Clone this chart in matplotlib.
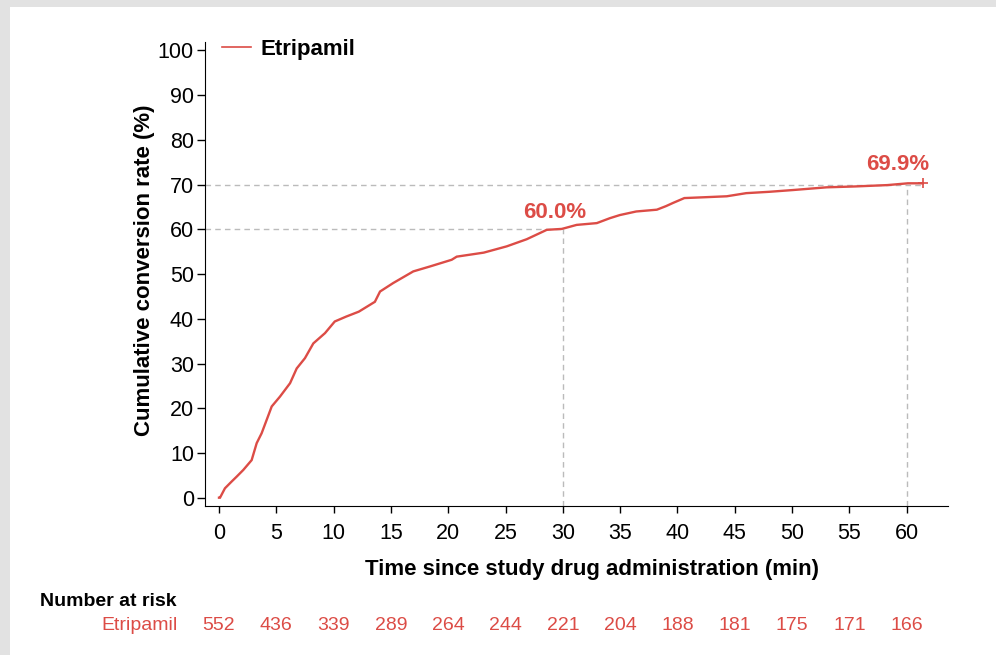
import matplotlib.pyplot as plt
from matplotlib.lines import Line2D
from matplotlib.patches import Rectangle

plt.rcParams['font.family'] = ['Liberation Sans', 'DejaVu Sans']

red = '#dc4c46'

# cumulative conversion curve
time_min = [0, 0.09, 0.52, 1.1, 1.54, 2.12, 2.85, 3.29, 3.72, 4.16, 4.6, 5.32, 6.2,
            6.78, 7.5, 8.23, 9.25, 10.1, 11.1, 12.2, 13.6, 14.05, 15.2, 16.95, 18.4,
            20.3, 20.74, 23.1, 25.1, 26.85, 28.6, 29.9, 30.2, 31.2, 32.96, 34.1,
            34.97, 36.4, 38.2, 39.0, 39.6, 40.6, 42.5, 44.3, 46.0, 48.0, 50.1, 53.0,
            55.5, 58.3, 60.1, 61.4]
conv_pct = [0, 0, 2.1, 3.6, 4.7, 6.2, 8.4, 12.2, 14.4, 17.4, 20.4, 22.6, 25.6,
            28.9, 31.2, 34.5, 36.8, 39.4, 40.5, 41.6, 43.8, 46.1, 48.0, 50.6, 51.7,
            53.2, 53.9, 54.8, 56.2, 57.8, 59.9, 60.1, 60.3, 61.0, 61.4, 62.5,
            63.2, 64.0, 64.4, 65.2, 65.9, 67.0, 67.2, 67.4, 68.1, 68.4, 68.8, 69.4,
            69.6, 69.9, 70.3, 70.3]

x_ticks = list(range(0, 61, 5))
y_ticks = list(range(0, 101, 10))
at_risk = [552, 436, 339, 289, 264, 244, 221, 204, 188, 181, 175, 171, 166]

fig = plt.figure(figsize=(9.96, 6.55), dpi=100)
# card with grey shadow on top/left
fig.patches.append(Rectangle((0, 0), 1, 1, transform=fig.transFigure,
                             facecolor='#e2e2e2', edgecolor='none', zorder=-10))
fig.patches.append(Rectangle((10 / 996, 0), 1, 1 - 7 / 655, transform=fig.transFigure,
                             facecolor='white', edgecolor='none', zorder=-9))

ax = fig.add_axes([205 / 996, 1 - 506 / 655, (948 - 205) / 996, (506 - 42) / 655])
ax.set_facecolor('none')

# reference lines at 30 and 60 min
dash = (0, (4, 3))
ax.plot([-1.22, 30], [60, 60], ls=dash, color='#bbbbbb', lw=1)
ax.plot([30, 30], [-1.86, 60], ls=dash, color='#bbbbbb', lw=1)
ax.plot([-1.22, 61.4], [70, 70], ls=dash, color='#bbbbbb', lw=1)
ax.plot([60, 60], [-1.86, 70], ls=dash, color='#bbbbbb', lw=1)

ax.plot(time_min, conv_pct, color=red, lw=1.7, solid_joinstyle='miter')
ax.plot([time_min[-1]], [conv_pct[-1]], marker='+', color=red, ms=7, mew=1.2)

ax.text(29.3, 62.5, '60.0%', color=red, fontsize=16, fontweight='bold', ha='center')
ax.text(59.2, 73.2, '69.9%', color=red, fontsize=16, fontweight='bold', ha='center')

ax.set_xlim(-1.22, 63.6)
ax.set_ylim(-1.86, 101.9)
ax.set_xticks(x_ticks)
ax.set_yticks(y_ticks)
ax.tick_params(axis='y', labelsize=15.5, length=6, width=1, pad=2)
ax.tick_params(axis='x', labelsize=15.5, length=5, width=1, pad=7)
for s in ['top', 'right']:
    ax.spines[s].set_visible(False)
ax.set_xlabel('Time since study drug administration (min)', fontsize=16,
              fontweight='bold')
ax.set_ylabel('Cumulative conversion rate (%)', fontsize=16, fontweight='bold')
ax.xaxis.set_label_coords(0.521, -0.114)
ax.yaxis.set_label_coords(-0.0673, 0.508)

handle = Line2D([], [], color=red, lw=1.2)
ax.legend([handle], ['Etripamil'], loc='upper left', bbox_to_anchor=(0.0229, 1.0065),
          frameon=False, borderpad=0, borderaxespad=0, handlelength=1.3,
          handletextpad=0.45, prop={'weight': 'bold', 'size': 16})

# number at risk table
fig.text(40 / 996, 1 - 601 / 655, 'Number at risk', fontsize=14, fontweight='bold',
         va='center', ha='left')
fig.text(178 / 996, 1 - 626 / 655, 'Etripamil', fontsize=14, color=red,
         va='center', ha='right')
for t, n in zip(x_ticks, at_risk):
    xf = ax.transData.transform((t, 0))[0] / fig.bbox.width
    fig.text(xf, 1 - 626 / 655, str(n), fontsize=14, color=red, va='center', ha='center')

fig.savefig('out.png', dpi=100)
